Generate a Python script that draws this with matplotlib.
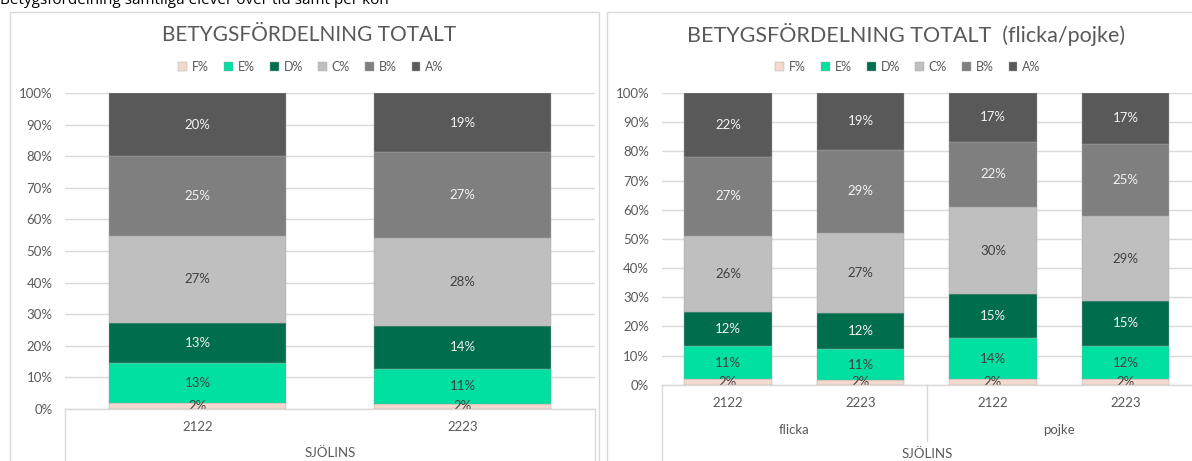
import matplotlib
matplotlib.use("Agg")
import matplotlib.pyplot as plt
import matplotlib.patches as mpatches
import matplotlib.transforms as mtransforms
from matplotlib.lines import Line2D
import numpy as np

# ---------------------------------------------------------------------
# Data (andel i procent per betyg)
# ---------------------------------------------------------------------
grades = ["F%", "E%", "D%", "C%", "B%", "A%"]

# Vänster diagram: totalt per läsår
total_years = ["2122", "2223"]
total_F = [1.8, 1.7]
total_E = [12.6, 11.0]
total_D = [12.9, 13.6]
total_C = [27.4, 27.8]
total_B = [25.3, 27.2]
total_A = [20.0, 18.7]

# Höger diagram: per kön och läsår
gender_groups = ["flicka", "pojke"]
gender_years = ["2122", "2223", "2122", "2223"]
gender_F = [1.8, 1.6, 1.8, 1.8]
gender_E = [11.4, 10.6, 14.3, 11.6]
gender_D = [11.8, 12.4, 15.0, 15.4]
gender_C = [26.0, 27.4, 29.8, 28.9]
gender_B = [27.2, 28.6, 22.4, 24.9]
gender_A = [21.8, 19.4, 16.7, 17.4]

school = "SJÖLINS"

colors = ["#F4D9CF", "#00E0A1", "#006E4D", "#BFBFBF", "#7F7F7F", "#595959"]
label_colors = ["#404040", "#404040", "#F2F2F2", "#404040", "#F2F2F2", "#F2F2F2"]

W, H = 1192, 461
TXT = "#595959"
GRID = "#D9D9D9"
FS = 9.5
plt.rcParams["font.family"] = ["Lato", "DejaVu Sans"]


def fx(px):
    return px / W


def fy(py):
    return 1 - py / H


def fig_line(fig, x0, y0, x1, y1, color=GRID):
    fig.add_artist(Line2D([fx(x0), fx(x1)], [fy(y0), fy(y1)],
                          transform=fig.transFigure, color=color, lw=1.0))


def stacked(ax, series, width):
    x = np.arange(len(series[0]))
    bottom = np.zeros(len(x))
    for vals, col, lcol, name in zip(series, colors, label_colors, grades):
        vals = np.array(vals)
        bars = ax.bar(x, vals, width, bottom=bottom, color=col, label=name,
                      edgecolor="#A6A6A6", linewidth=0.3, zorder=2)
        ax.bar_label(bars, labels=[f"{round(v):d}%" for v in vals],
                     label_type="center", color=lcol, fontsize=FS)
        bottom += vals
    ax.set_ylim(0, 100)
    ax.set_xlim(-0.5, len(x) - 0.5)
    ax.set_yticks(range(0, 101, 10))
    ax.set_yticklabels([f"{t}%" for t in range(0, 101, 10)], color=TXT, fontsize=FS)
    ax.tick_params(axis="y", length=0, pad=9)
    ax.set_xticks([])
    ax.yaxis.grid(True, color=GRID, lw=1.0, zorder=0)
    ax.set_axisbelow(True)
    for s in ax.spines.values():
        s.set_visible(False)
    return x


def legend(ax, xc):
    ax.legend(loc="center", bbox_to_anchor=(fx(xc), fy(67)),
              bbox_transform=fig.transFigure, ncol=6, frameon=False, fontsize=9,
              handlelength=0.7, handleheight=0.7, handletextpad=0.4,
              columnspacing=1.2, labelcolor=TXT)


fig = plt.figure(figsize=(W / 100, H / 100), dpi=100)

# ram runt diagrammen
fig.add_artist(mpatches.Rectangle((fx(10), fy(470)), fx(589), fy(12) - fy(470),
                                  transform=fig.transFigure, fill=False,
                                  edgecolor=GRID, lw=1.0))
fig.add_artist(mpatches.Rectangle((fx(607), fy(470)), fx(600), fy(12) - fy(470),
                                  transform=fig.transFigure, fill=False,
                                  edgecolor=GRID, lw=1.0))

# rubrik ovanför (delvis avklippt i originalet)
fig.text(fx(0), fy(4.5), "Betygsfördelning samtliga elever över tid samt per kön",
         ha="left", va="baseline", fontsize=11, color="black",
         family=["Open Sans", "DejaVu Sans"])

# --- vänster diagram ---
ax1 = fig.add_axes([fx(65), fy(409), fx(530), (409 - 93) / H])
x1 = stacked(ax1, [total_F, total_E, total_D, total_C, total_B, total_A], 0.667)
fig.text(fx(309), fy(35), "BETYGSFÖRDELNING TOTALT", ha="center", va="center",
         fontsize=15, color=TXT)
legend(ax1, 311)
tr1 = mtransforms.blended_transform_factory(ax1.transData, fig.transFigure)
for xi, yr in zip(x1, total_years):
    ax1.text(xi, fy(427), yr, transform=tr1, ha="center", va="center",
             fontsize=FS, color=TXT)
ax1.text(np.mean(x1), fy(453), school, transform=tr1, ha="center", va="center",
         fontsize=FS, color=TXT)
fig_line(fig, 65, 409, 595, 409)
fig_line(fig, 65, 409, 65, 461)
fig_line(fig, 595, 409, 595, 461)

# --- höger diagram ---
ax2 = fig.add_axes([fx(661.75), fy(384.7), fx(530), (384.7 - 93) / H])
x2 = stacked(ax2, [gender_F, gender_E, gender_D, gender_C, gender_B, gender_A], 0.664)
fig.text(fx(906), fy(35), "BETYGSFÖRDELNING TOTALT  (flicka/pojke)",
         ha="center", va="center", fontsize=15.5, color=TXT)
legend(ax2, 908)
tr2 = mtransforms.blended_transform_factory(ax2.transData, fig.transFigure)
for xi, yr in zip(x2, gender_years):
    ax2.text(xi, fy(403), yr, transform=tr2, ha="center", va="center",
             fontsize=FS, color=TXT)
for gi, g in enumerate(gender_groups):
    ax2.text(np.mean(x2[2 * gi:2 * gi + 2]), fy(430), g, transform=tr2,
             ha="center", va="center", fontsize=FS, color=TXT)
ax2.text(np.mean(x2), fy(454), school, transform=tr2, ha="center", va="center",
         fontsize=FS, color=TXT)
fig_line(fig, 661.75, 384.7, 1192, 384.7)
fig_line(fig, 661.75, 384.7, 661.75, 461)
fig_line(fig, 926.75, 384.7, 926.75, 441)

fig.savefig("out.png", dpi=100, facecolor="white")
